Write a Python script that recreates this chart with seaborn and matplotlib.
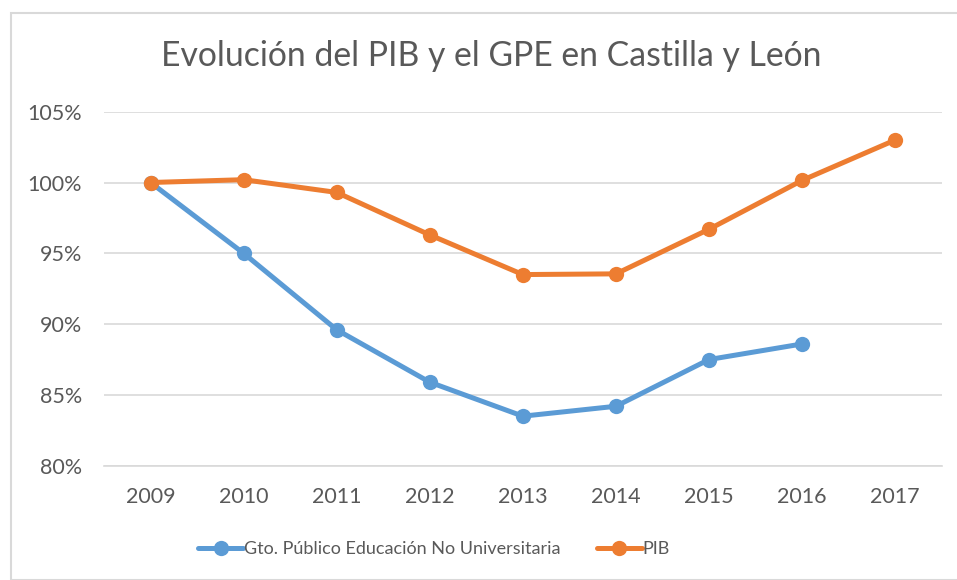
import pandas as pd
import matplotlib.pyplot as plt
import seaborn as sns
from matplotlib.patches import Rectangle

# ================= DATOS =================
anios = [2009, 2010, 2011, 2012, 2013, 2014, 2015, 2016, 2017]
gpe = [100.0, 95.0, 89.6, 85.9, 83.5, 84.2, 87.5, 88.6, None]
pib = [100.0, 100.2, 99.3, 96.3, 93.5, 93.55, 96.7, 100.15, 103.0]
serie_gpe = 'Gto. Público Educación No Universitaria'
serie_pib = 'PIB'
titulo = 'Evolución del PIB y el GPE en Castilla y León'
y_ticks = [80, 85, 90, 95, 100, 105]

df = pd.concat([
    pd.DataFrame({'anio': anios, 'valor': gpe, 'serie': serie_gpe}),
    pd.DataFrame({'anio': anios, 'valor': pib, 'serie': serie_pib}),
], ignore_index=True).dropna()

# ================= ESTILO =================
sns.set_style("white")
plt.rcParams['font.family'] = ['Lato', 'DejaVu Sans']
gris = '#595959'
colores = {serie_gpe: '#5B9BD5', serie_pib: '#ED7D31'}

fig = plt.figure(figsize=(9.57, 5.8), dpi=100)
ax = fig.add_axes([0.1087, 0.197, 0.8753, 0.6104])

sns.lineplot(
    data=df, x='anio', y='valor', hue='serie', style='serie',
    palette=colores, markers=['o', 'o'], dashes=False,
    linewidth=3.6, markersize=11, markeredgewidth=0, ax=ax,
)

ax.set_xlim(2008.5, 2017.5)
ax.set_ylim(80, 105)
ax.set_xticks(anios)
ax.set_xticklabels([str(a) for a in anios])
ax.set_yticks(y_ticks)
ax.set_yticklabels([f'{t}%' for t in y_ticks])
ax.tick_params(axis='both', length=0, labelsize=15.5, labelcolor=gris)
ax.tick_params(axis='x', pad=15)
ax.tick_params(axis='y', pad=16)
ax.grid(axis='y', color='#D9D9D9', linewidth=1.2)
ax.set_axisbelow(True)
for s in ['top', 'right', 'left']:
    ax.spines[s].set_visible(False)
ax.spines['bottom'].set_color('#D9D9D9')
ax.spines['bottom'].set_linewidth(1.2)
ax.set_xlabel('')
ax.set_ylabel('')

handles, labels = ax.get_legend_handles_labels()
ax.legend_.remove()
fig.legend(handles, labels, loc='center', bbox_to_anchor=(0.4535, 0.053),
           ncol=2, frameon=False, fontsize=13, labelcolor=gris,
           handlelength=2.5, handletextpad=0.05, columnspacing=2.0)

fig.text(0.513, 0.903, titulo, ha='center', va='center', fontsize=24.3, color=gris)

# borde del área del gráfico
fig.patches.append(Rectangle((11 / 957, 0), 1.2, 1 - 13 / 580, transform=fig.transFigure,
                             fill=False, edgecolor='#D9D9D9', linewidth=1.5))

fig.savefig('out.png', dpi=100)
